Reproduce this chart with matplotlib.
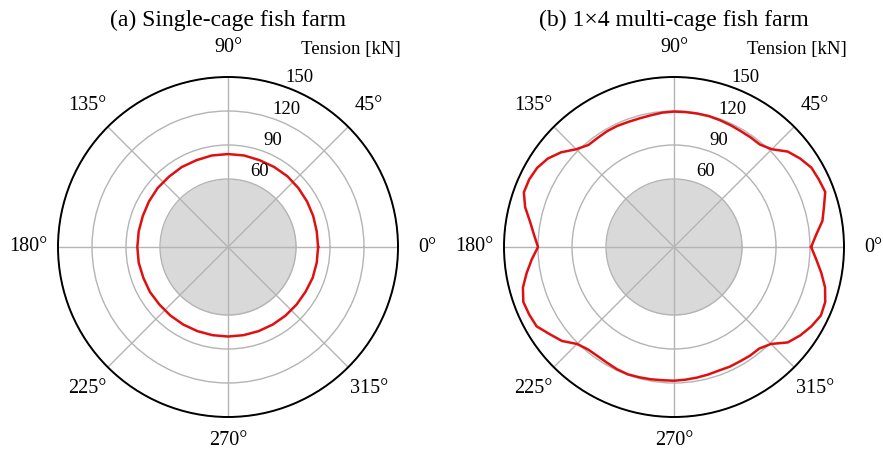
import numpy as np
import matplotlib
matplotlib.use("Agg")
import matplotlib.pyplot as plt

plt.rcParams["font.family"] = ["Liberation Serif", "DejaVu Serif"]

# Heading angles (deg) and mooring-line tension (kN)
angles_single = list(range(0, 360, 10))
tension_single = [79.5, 79.5, 80, 80.5, 81, 81.5, 81.5, 81.5, 82, 82,
                  82, 81.5, 81.5, 81, 81, 80.5, 80, 80, 80, 80,
                  79.5, 79.5, 79, 79, 79, 79, 79, 79, 79, 79,
                  79, 79, 79, 79, 79.5, 79.5]

angles_multi = list(range(0, 360, 5))
tension_multi = [121, 126, 133, 137, 142, 141, 140, 136, 131, 122,
                 118, 118, 118, 118.5, 119, 119.5, 119.5, 119.5, 119.5, 119,
                 118, 117.5, 117.5, 118, 118, 117.5, 117.5, 122, 130, 136,
                 139.5, 141, 141, 136, 129, 124, 120, 126, 132, 138,
                 141.5, 141, 140, 134, 129, 121, 118, 117.5, 118, 119,
                 119.5, 119, 118.5, 118, 118, 117.5, 117, 116.5, 116, 116.5,
                 116.5, 117, 117, 121, 131, 136, 140, 143, 142, 138,
                 132, 126]

titles = ["(a) Single-cage fish farm", "(b) 1\u00d74 multi-cage fish farm"]
theta_ticks = [0, 45, 90, 135, 180, 225, 270, 315]
theta_labels = ["0\u00b0", "45\u00b0", "90\u00b0", "135\u00b0",
                "180\u00b0", "225\u00b0", "270\u00b0", "315\u00b0"]
r_ticks = [60, 90, 120, 150]
r_max = 150
core_radius = 60

fig = plt.figure(figsize=(8.83, 4.55), dpi=100)
boxes = [[58 / 883, 38 / 455, 340 / 883, 340 / 455],
         [504 / 883, 38 / 455, 340 / 883, 340 / 455]]
series = [(angles_single, tension_single), (angles_multi, tension_multi)]

for box, (ang, ten), title in zip(boxes, series, titles):
    ax = fig.add_axes(box, projection="polar")
    ax.set_ylim(0, r_max)
    ax.set_xticks(np.deg2rad(theta_ticks))
    ax.set_xticklabels([])
    ax.set_yticks(r_ticks)
    ax.set_yticklabels([])
    ax.tick_params(length=0)
    ax.grid(True, color="#b4b4b4", lw=1.0)
    ax.spines["polar"].set_color("black")
    ax.spines["polar"].set_linewidth(1.4)

    # shaded cage core
    th = np.linspace(0, 2 * np.pi, 361)
    ax.fill_between(th, 0, core_radius, color="#d9d9d9", lw=0, zorder=1)

    # tension envelope
    t = np.deg2rad(np.array(ang + [ang[0]], dtype=float))
    r = np.array(ten + [ten[0]], dtype=float)
    ax.plot(t, r, color="#e01010", lw=1.8, zorder=3)

    # angle labels outside the rim
    for a, lab in zip(theta_ticks, theta_labels):
        r_lab = 171 if a == 270 else 176
        ax.text(np.deg2rad(a), r_lab, lab, ha="center", va="center",
                fontsize=14.5, clip_on=False)

    # radial labels
    for rv in r_ticks:
        ax.text(np.deg2rad(67), rv + 12, str(rv), ha="center", va="center",
                fontsize=13.5, clip_on=False)

    ax.text(0.86, 1.08, "Tension [kN]", transform=ax.transAxes,
            ha="center", va="center", fontsize=13.5)
    ax.text(0.5, 1.167, title, transform=ax.transAxes,
            ha="center", va="center", fontsize=17)

fig.savefig("out.png", dpi=100)
